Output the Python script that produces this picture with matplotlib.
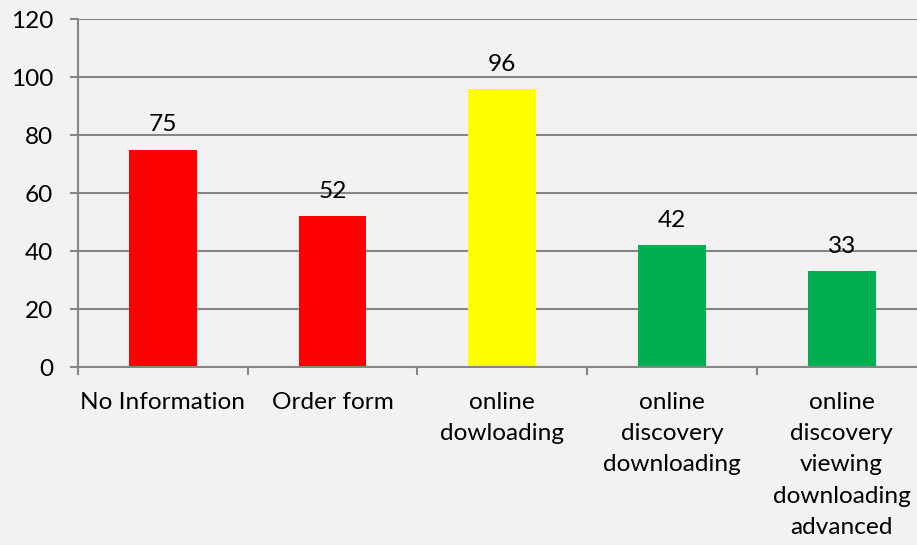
import matplotlib
matplotlib.use("Agg")
from matplotlib import pyplot as plt

plt.rc("font", family = ["Lato", "DejaVu Sans"], size = 17.6)

# Chart data
categories = ["No Information", "Order form", "online\ndowloading",
              "online\ndiscovery\ndownloading",
              "online\ndiscovery\nviewing\ndownloading\nadvanced"]
values = [75, 52, 96, 42, 33]
barColors = ["#ff0000", "#ff0000", "#ffff00", "#00b050", "#00b050"]
yTicks = [0, 20, 40, 60, 80, 100, 120]

grey = "#868686"
bg = "#f2f2f2"

fig = plt.figure(figsize = (9.17, 5.45), dpi = 100, facecolor = bg)
# plot area runs a little past the right edge of the picture, as in the original
ax = fig.add_axes([78 / 917, 178 / 545, 848.5 / 917, 348 / 545], facecolor = bg)

x = range(len(categories))
bars = ax.bar(x, values, width = 0.4, color = barColors, zorder = 2)

for rect, v in zip(bars, values):
    ax.annotate(f"{v}", (rect.get_x() + rect.get_width() / 2, rect.get_height()),
                xytext = (0, 13), textcoords = "offset points",
                ha = "center", va = "baseline", color = "black")

ax.set_xlim(-0.5, len(categories) - 0.5)
ax.set_ylim(0, 120)
ax.set_yticks(yTicks)
ax.yaxis.grid(True, color = grey, linewidth = 1.5)
ax.set_axisbelow(True)

ax.set_xticks(list(x))
ax.set_xticklabels(categories, linespacing = 1.6)
ax.set_xticks([i - 0.5 for i in range(len(categories) + 1)], minor = True)
ax.tick_params(axis = "x", which = "major", length = 0, pad = 18)
ax.tick_params(axis = "x", which = "minor", length = 6, width = 1.5, color = grey, direction = "out")
ax.tick_params(axis = "y", length = 6, width = 1.5, color = grey, direction = "out", pad = 12)

for side in ("top", "right"):
    ax.spines[side].set_visible(False)
for side in ("left", "bottom"):
    ax.spines[side].set_color(grey)
    ax.spines[side].set_linewidth(1.5)

plt.savefig("out.png", dpi = 100, facecolor = bg)
